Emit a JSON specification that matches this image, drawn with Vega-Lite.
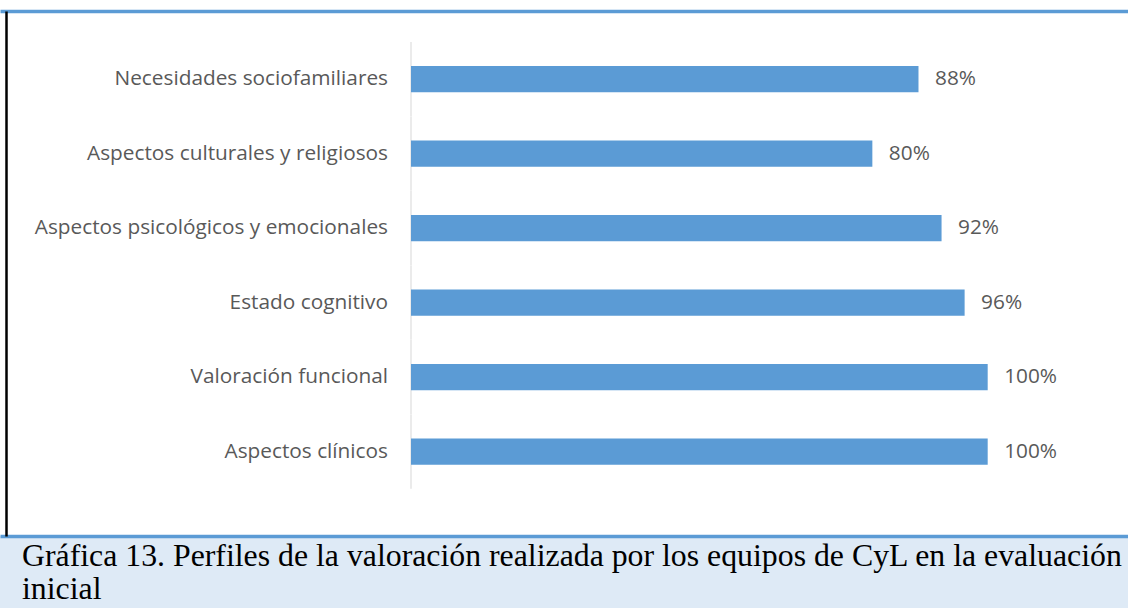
{
  "$schema": "https://vega.github.io/schema/vega-lite/v6.json",
  "width": 1128,
  "height": 536,
  "autosize": {"type": "none"},
  "padding": {"left": 0, "right": 0, "top": 0, "bottom": 72},
  "background": "#DEEAF6",
  "data": {
    "values": [
      {"categoria": "Necesidades sociofamiliares", "valor": 0.88},
      {"categoria": "Aspectos culturales y religiosos", "valor": 0.80},
      {"categoria": "Aspectos psicológicos y emocionales", "valor": 0.92},
      {"categoria": "Estado cognitivo", "valor": 0.96},
      {"categoria": "Valoración funcional", "valor": 1.00},
      {"categoria": "Aspectos clínicos", "valor": 1.00}
    ]
  },
  "title": {
    "text": ["Gráfica 13. Perfiles de la valoración realizada por los equipos de CyL en la evaluación", "inicial"],
    "orient": "bottom",
    "anchor": "start",
    "frame": "group",
    "font": "Liberation Serif",
    "fontSize": 31.8,
    "fontWeight": "normal",
    "color": "#000000",
    "dx": 22,
    "offset": 5,
    "lineHeight": 33
  },
  "resolve": {"axis": {"x": "independent"}},
  "layer": [
    {
      "mark": {"type": "tick", "orient": "vertical", "size": 74.3, "thickness": 1.5, "color": "#D9D9D9"},
      "encoding": {
        "x": {"datum": 0, "type": "quantitative", "scale": {"domain": [-0.7127, 1.2433], "nice": false, "zero": false}, "axis": {"orient": "top", "offset": -11}},
        "y": {"field": "categoria", "type": "nominal", "sort": null, "title": null, "scale": {"paddingInner": 0.646, "paddingOuter": 0.92, "align": 0.481}}
      }
    },
    {
      "mark": {"type": "bar", "color": "#5B9BD5"},
      "encoding": {
        "x": {"field": "valor", "type": "quantitative", "axis": null},
        "x2": {"datum": 0},
        "y": {"field": "categoria", "type": "nominal", "sort": null, "title": null}
      }
    },
    {
      "mark": {"type": "text", "align": "left", "baseline": "middle", "dx": 16.5, "font": "Open Sans", "fontSize": 20.8, "color": "#595959"},
      "encoding": {
        "x": {"field": "valor", "type": "quantitative", "axis": null},
        "y": {"field": "categoria", "type": "nominal", "sort": null, "title": null},
        "text": {"field": "valor", "type": "quantitative", "format": ".0%"}
      }
    },
    {
      "mark": {"type": "text", "align": "right", "baseline": "middle", "dx": -23, "font": "Open Sans", "fontSize": 20.8, "color": "#595959"},
      "encoding": {
        "x": {"datum": 0, "type": "quantitative", "axis": {"orient": "bottom", "offset": 0}},
        "y": {"field": "categoria", "type": "nominal", "sort": null, "title": null},
        "text": {"field": "categoria", "type": "nominal"}
      }
    }
  ],
  "config": {
    "view": {"stroke": null, "fill": "#FFFFFF"},
    "axisX": {"labels": false, "ticks": false, "grid": false, "title": null, "domainColor": "#5B9BD5", "domainWidth": 3.5},
    "axisY": {"labels": false, "ticks": false, "grid": false, "title": null, "domainColor": "#000000", "domainWidth": 2.5, "offset": -6, "domainDash": [0, 11, 2000]}
  }
}
